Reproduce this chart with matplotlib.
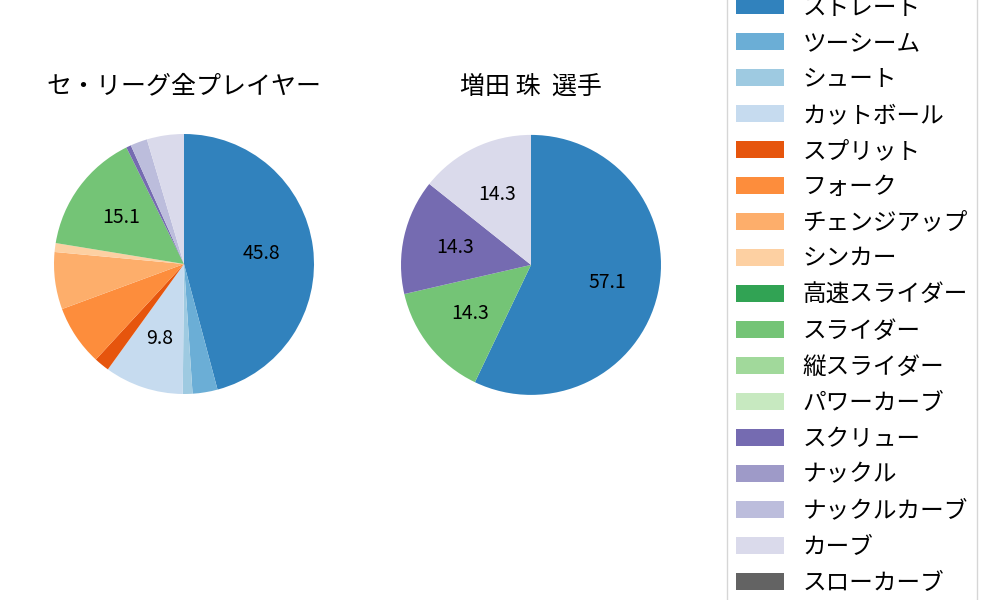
import matplotlib
matplotlib.use("Agg")
import matplotlib.pyplot as plt
from matplotlib.patches import Patch

plt.rcParams["font.family"] = ["Noto Sans CJK JP", "DejaVu Sans"]

PITCHES = ["ストレート", "ツーシーム", "シュート", "カットボール", "スプリット", "フォーク",
           "チェンジアップ", "シンカー", "高速スライダー", "スライダー", "縦スライダー",
           "パワーカーブ", "スクリュー", "ナックル", "ナックルカーブ", "カーブ", "スローカーブ"]
COLORS = ["#3182bd", "#6baed6", "#9ecae1", "#c6dbef", "#e6550d", "#fd8d3c",
          "#fdae6b", "#fdd0a2", "#31a354", "#74c476", "#a1d99b",
          "#c7e9c0", "#756bb1", "#9e9ac8", "#bcbddc", "#dadaeb", "#636363"]

LEAGUE_TITLE = "セ・リーグ全プレイヤー"
LEAGUE_PCT = [45.8, 3.1, 1.2, 9.8, 1.9, 7.5, 7.1, 1.1, 0.0, 15.1, 0.0,
              0.0, 0.6, 0.0, 2.1, 4.6, 0.0]

PLAYER_TITLE = "増田 珠  選手"
PLAYER_PCT = [57.1, 0.0, 0.0, 0.0, 0.0, 0.0, 0.0, 0.0, 0.0, 14.3, 0.0,
              0.0, 14.3, 0.0, 0.0, 14.3, 0.0]


def label_big(pct):
    return f"{pct:.1f}" if pct >= 9 else ""


def draw_pie(ax, values, title):
    vals = [v for v in values if v > 0]
    cols = [c for v, c in zip(values, COLORS) if v > 0]
    ax.pie(vals, colors=cols, startangle=90, counterclock=False,
           autopct=label_big, pctdistance=0.6,
           textprops=dict(fontsize=14, color="black"))
    ax.set_title(title, fontsize=18, pad=6)


fig = plt.figure(figsize=(10, 6), dpi=100)
ax_l = fig.add_axes([0.0215, 0.289, 0.325, 0.542])
ax_r = fig.add_axes([0.3685, 0.2875, 0.325, 0.542])

draw_pie(ax_l, LEAGUE_PCT, LEAGUE_TITLE)
draw_pie(ax_r, PLAYER_PCT, PLAYER_TITLE)

handles = [Patch(facecolor=c, label=p) for p, c in zip(PITCHES, COLORS)]
fig.legend(handles=handles, loc="center left", bbox_to_anchor=(0.727, 0.508),
           bbox_transform=fig.transFigure, borderaxespad=0, fontsize=17,
           labelspacing=0.55, frameon=True)

fig.savefig("out.png", dpi=100)
